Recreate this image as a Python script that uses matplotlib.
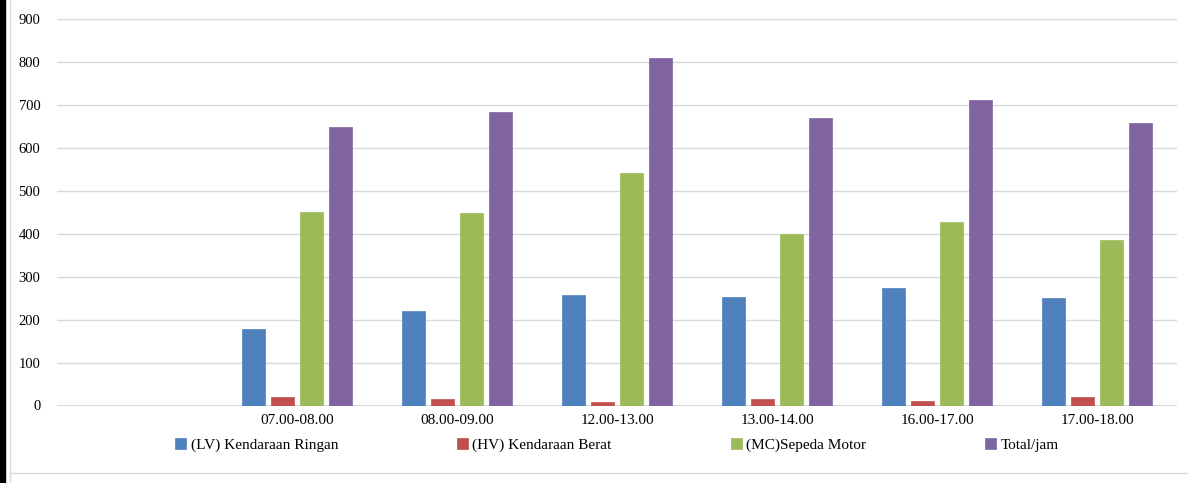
import matplotlib.pyplot as plt
import numpy as np

# Data lalu lintas per jam
kategori = ["", "07.00-08.00", "08.00-09.00", "12.00-13.00", "13.00-14.00", "16.00-17.00", "17.00-18.00"]
lv = [0, 178, 220, 257, 252, 273, 250]
hv = [0, 20, 15, 8, 15, 10, 20]
mc = [0, 450, 448, 541, 399, 427, 385]
total = [0, 648, 683, 809, 669, 711, 657]

series = [
    ("(LV) Kendaraan Ringan", lv, "#4F81BD"),
    ("(HV) Kendaraan Berat", hv, "#C0504D"),
    ("(MC)Sepeda Motor", mc, "#9BBB59"),
    ("Total/jam", total, "#8064A2"),
]

plt.rcParams['font.family'] = ['Liberation Serif', 'DejaVu Serif']

fig = plt.figure(figsize=(11.88, 4.83), dpi=100)
ax = fig.add_axes([57/1188, 1-405.5/483, 1120/1188, 386.5/483])

x = np.arange(len(kategori))
lebar = 0.144
jarak = 0.181
for i, (nama, nilai, warna) in enumerate(series):
    pos = x + (i - 1.5) * jarak
    ax.bar(pos, nilai, width=lebar, color=warna, label=nama, zorder=3,
           edgecolor=warna, linewidth=0.5)

ax.set_xlim(-0.5, len(kategori) - 0.5)
ax.set_ylim(0, 900)
ax.set_yticks(range(0, 1000, 100))
ax.set_xticks(x)
ax.set_xticklabels(kategori, fontsize=11)
ax.tick_params(axis='y', labelsize=10.5, length=0, pad=12)
ax.tick_params(axis='x', length=0, pad=6)
ax.grid(axis='y', color='#D9D9D9', linewidth=1, zorder=0)
for s in ax.spines.values():
    s.set_visible(False)
ax.axhline(0, color='#D9D9D9', linewidth=1.5, zorder=2)

fig.legend(loc='center', bbox_to_anchor=(617/1188, 1-445/483), ncol=4, frameon=False,
           fontsize=11, handlelength=0.7, handleheight=0.7, handletextpad=0.3,
           columnspacing=7.8)

# Bingkai seperti di dokumen
fig.patches.append(plt.Rectangle((0, 0), 5/1188, 1, transform=fig.transFigure,
                                 color='black', zorder=10))
fig.lines.append(plt.Line2D([10/1188, 10/1188], [0, 1], transform=fig.transFigure,
                            color='#D9D9D9', linewidth=1))
fig.lines.append(plt.Line2D([10/1188, 1], [1-473/483, 1-473/483], transform=fig.transFigure,
                            color='#D9D9D9', linewidth=1))

fig.savefig('out.png', dpi=100)
